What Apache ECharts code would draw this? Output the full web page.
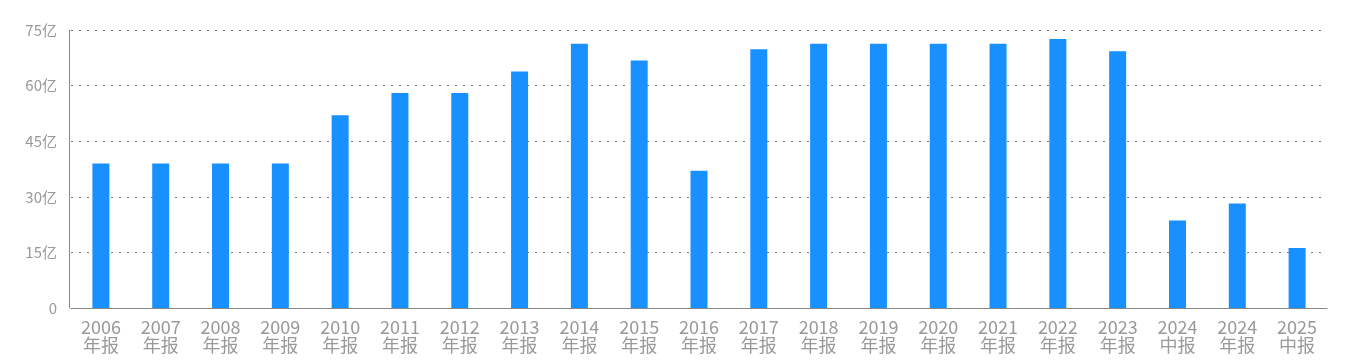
<!DOCTYPE html>
<html><head><meta charset="utf-8">
<script src="https://cdn.jsdelivr.net/npm/echarts@6/dist/echarts.min.js"></script>
<style>html,body{margin:0;padding:0;background:#fff}#c{width:1358px;height:362px}</style>
</head><body><div id="c"></div>
<script>
const years = ["2006","2007","2008","2009","2010","2011","2012","2013","2014","2015","2016","2017","2018","2019","2020","2021","2022","2023","2024","2024","2025"];
const periods = ["年报","年报","年报","年报","年报","年报","年报","年报","年报","年报","年报","年报","年报","年报","年报","年报","年报","年报","中报","年报","中报"];
const values = [39.0,39.0,39.0,39.0,52.0,58.0,58.0,63.8,71.3,66.8,37.0,69.8,71.3,71.3,71.3,71.3,72.6,69.3,23.6,28.2,16.2];
const yTicks = [0,15,30,45,60,75];

const categories = years.map((y,i)=>y+"\n"+periods[i]);
const chart = echarts.init(document.getElementById('c'));
chart.setOption({
  animation:false,
  grid:{left:71,right:31,top:30,bottom:54,containLabel:false},
  xAxis:{type:'category',data:categories,
    axisLine:{lineStyle:{color:'#888',width:1}},
    axisTick:{show:false},
    axisLabel:{color:'#999',fontSize:18,lineHeight:18,margin:10,fontFamily:'"Noto Sans CJK SC", sans-serif',interval:0}},
  yAxis:{type:'value',min:yTicks[0],max:yTicks[yTicks.length-1],interval:15,offset:2,
    axisLine:{show:true,lineStyle:{color:'#888'}},
    axisTick:{show:false},
    axisLabel:{color:'#999',fontSize:15,margin:12,fontFamily:'"Noto Sans CJK SC", sans-serif',
      formatter:v=>v===0?'0':v+'亿'},
    splitLine:{lineStyle:{color:'#777',type:[2,6],width:1}}},
  series:[{type:'bar',data:values,barWidth:17,itemStyle:{color:'#1890ff'}}]
});
</script></body></html>
